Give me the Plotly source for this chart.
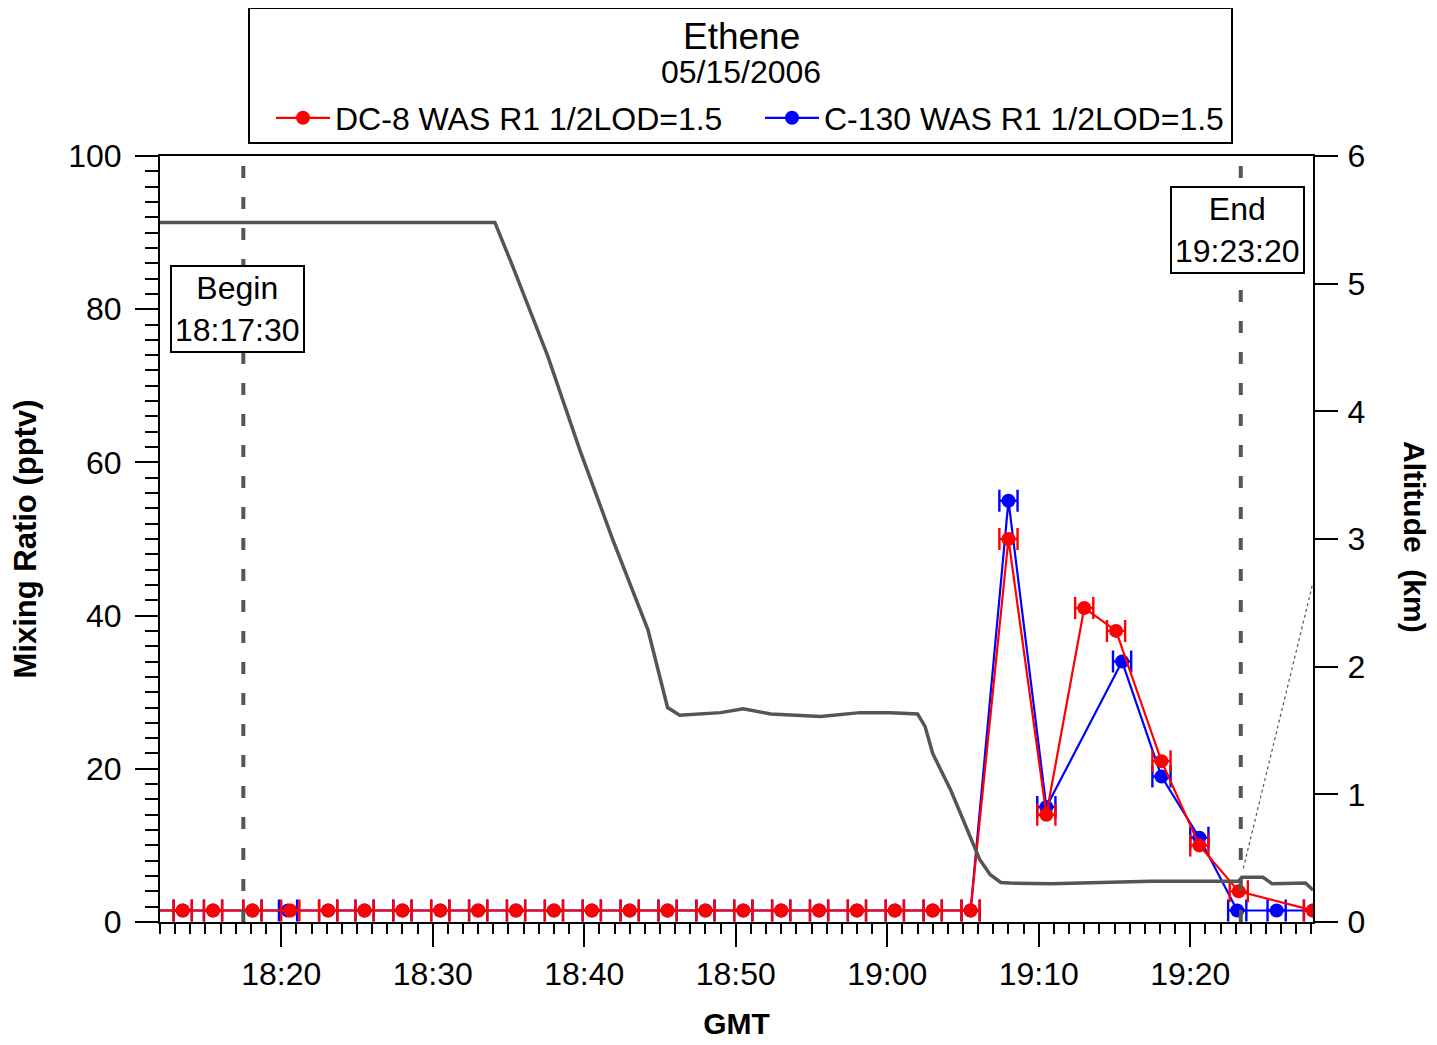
import plotly.graph_objects as go

# ---------------- data ----------------
# time in minutes after 18:00 GMT
dc8_time = [11.0, 13.5, 15.5, 18.1, 20.6, 23.1, 25.5, 28.0, 30.5, 33.0, 35.5, 38.0, 40.5,
            43.0, 45.5, 48.0, 50.5, 53.0, 55.5, 58.0, 60.5, 63.0, 65.5,
            68.0, 70.5, 73.0, 75.1, 78.1, 80.6, 83.2, 88.1]
dc8_value = [1.5] * 23 + [50, 14, 41, 38, 21, 10, 4, 1.5]

c130_time = [11.0, 13.5, 15.5, 18.1, 20.45, 23.1, 25.5, 28.0, 30.5, 33.0, 35.5, 38.0, 40.5,
             43.0, 45.5, 48.0, 50.5, 53.0, 55.5, 58.0, 60.5, 63.0, 65.5,
             68.0, 70.5, 75.5, 78.1, 80.6, 83.1, 85.7, 88.1]
c130_value = [1.5] * 23 + [55, 15, 34, 19, 11, 1.5, 1.5, 1.5]

time_err = 0.6  # sample integration half-width (min)

alt_time = [12.0, 34.1, 35.3, 37.6, 39.7, 41.9, 44.2, 45.0, 45.5, 46.3, 49.0, 50.5, 52.3,
            55.6, 58.2, 60.2, 62.0, 62.5, 63.0, 64.2, 65.3, 66.1, 66.8, 67.5, 68.1,
            70.8, 74.1, 77.4, 80.7, 83.2, 83.4, 84.8, 85.4, 87.6, 88.1]
alt_km = [5.48, 5.48, 5.13, 4.43, 3.70, 2.99, 2.29, 1.90, 1.68, 1.62, 1.64, 1.67, 1.63,
          1.61, 1.64, 1.64, 1.63, 1.53, 1.32, 1.03, 0.72, 0.49, 0.37, 0.31, 0.305,
          0.30, 0.31, 0.32, 0.32, 0.32, 0.35, 0.35, 0.30, 0.305, 0.25]

alt2_time = [83.5, 88.1]
alt2_km = [0.42, 2.66]

begin_time = 17.5    # 18:17:30
end_time = 83.333    # 19:23:20

x_tickvals = [20, 30, 40, 50, 60, 70, 80]
x_ticktext = ["18:20", "18:30", "18:40", "18:50", "19:00", "19:10", "19:20"]
x_mid_ticks = [15, 25, 35, 45, 55, 65, 75, 85]

FONT = "Liberation Sans, Arial, sans-serif"
GRAY = "#555555"

# page body has an 8px margin: figure is placed at (8, 8)
OFF = 8
W, H = 1437 - OFF, 1045 - OFF
PL, PR, PT, PB = 160, 1313, 156, 922   # plot area in window pixels


def px(x):
    return (x - PL) / (PR - PL)


def py(y):
    return (PB - y) / (PB - PT)


fig = go.Figure()

fig.add_trace(go.Scatter(
    x=alt_time, y=alt_km, yaxis="y2", mode="lines",
    line=dict(color=GRAY, width=3.5), showlegend=False, hoverinfo="skip"))
fig.add_trace(go.Scatter(
    x=alt2_time, y=alt2_km, yaxis="y2", mode="lines",
    line=dict(color=GRAY, width=1.2, dash="dot"), showlegend=False, hoverinfo="skip"))

fig.add_trace(go.Scatter(
    x=c130_time, y=c130_value, mode="lines+markers", name="C-130 WAS R1 1/2LOD=1.5",
    line=dict(color="#0000FF", width=2.2),
    marker=dict(color="#0000FF", size=14),
    error_x=dict(type="constant", value=time_err, color="#0000FF", thickness=2.4, width=11)))
fig.add_trace(go.Scatter(
    x=dc8_time, y=dc8_value, mode="lines+markers", name="DC-8 WAS R1 1/2LOD=1.5",
    line=dict(color="#FF0000", width=2.2),
    marker=dict(color="#FF0000", size=14),
    error_x=dict(type="constant", value=time_err, color="#FF0000", thickness=2.4, width=11)))

XR = [12.0, 88.1]

fig.update_layout(
    width=W, height=H,
    margin=dict(l=PL - OFF, r=1437 - PR, t=PT - OFF, b=1045 - PB, autoexpand=False),
    paper_bgcolor="white", plot_bgcolor="white",
    font=dict(family=FONT, size=32, color="black"),
    xaxis=dict(
        range=XR, showgrid=False, zeroline=False, automargin=False,
        showline=True, linecolor="black", linewidth=2, mirror=True,
        tickmode="array", tickvals=x_tickvals, ticktext=x_ticktext,
        ticks="outside", ticklen=23, tickwidth=2, tickcolor="black",
        ticklabelstandoff=0,
        minor=dict(dtick=1, ticks="outside", ticklen=10, tickwidth=2, tickcolor="black", showgrid=False),
        title=dict(text="<b>GMT</b>", font=dict(size=30), standoff=22),
    ),
    xaxis3=dict(
        range=XR, overlaying="x", anchor="y", side="bottom", automargin=False,
        showgrid=False, zeroline=False, showline=False, showticklabels=False,
        tickmode="array", tickvals=x_mid_ticks,
        ticks="outside", ticklen=17, tickwidth=2, tickcolor="black",
    ),
    yaxis=dict(
        range=[0, 100], showgrid=False, zeroline=False, automargin=False,
        showline=True, linecolor="black", linewidth=2, mirror=True,
        dtick=20, ticks="outside", ticklen=23, tickwidth=2, tickcolor="black",
        ticklabelstandoff=7,
        minor=dict(dtick=2, ticks="outside", ticklen=13, tickwidth=2, tickcolor="black", showgrid=False),
        title=dict(text="<b>Mixing Ratio (pptv)</b>", font=dict(size=31), standoff=22),
    ),
    yaxis2=dict(
        range=[0, 6], overlaying="y", side="right", anchor="x", automargin=False,
        showgrid=False, zeroline=False, showline=True, linecolor="black", linewidth=2,
        dtick=1, ticks="outside", ticklen=23, tickwidth=2, tickcolor="black",
        ticklabelstandoff=3,
    ),
    legend=dict(
        orientation="h", x=px(271), xanchor="left",
        y=py(118), yanchor="middle",
        bgcolor="rgba(0,0,0,0)", borderwidth=0,
        font=dict(size=32), itemwidth=54, traceorder="reversed",
        entrywidth=420, entrywidthmode="pixels",
    ),
    showlegend=True,
)

# legend/title box
fig.add_shape(type="rect", xref="paper", yref="paper",
              x0=px(249), x1=px(1232), y0=py(143), y1=py(8),
              line=dict(color="black", width=2), fillcolor="rgba(0,0,0,0)")
fig.add_annotation(text="Ethene", xref="paper", yref="paper",
                   x=px(741), y=py(37), showarrow=False,
                   font=dict(size=37), xanchor="center", yanchor="middle")
fig.add_annotation(text="05/15/2006", xref="paper", yref="paper",
                   x=px(741), y=py(72), showarrow=False,
                   font=dict(size=32), xanchor="center", yanchor="middle")

# begin / end dashed lines
for t in (begin_time, end_time):
    fig.add_shape(type="line", xref="x", yref="paper", x0=t, x1=t, y0=0, y1=1,
                  line=dict(color=GRAY, width=4, dash="12px,19px"))

fig.add_annotation(text="Begin<br>18:17:30", x=17.1, y=80, xref="x", yref="y",
                   showarrow=False, bgcolor="white", bordercolor="black", borderwidth=2,
                   borderpad=3, font=dict(size=32))
fig.add_annotation(text="End<br>19:23:20", x=83.1, y=90.3, xref="x", yref="y",
                   showarrow=False, bgcolor="white", bordercolor="black", borderwidth=2,
                   borderpad=3, font=dict(size=32))

# right axis title (reads top-to-bottom)
fig.add_annotation(text="<b>Altitude  (km)</b>", xref="paper", yref="paper",
                   x=px(1415), y=py(537), showarrow=False,
                   textangle=90, font=dict(size=30), xanchor="center", yanchor="middle")

fig.write_html("out.html")
